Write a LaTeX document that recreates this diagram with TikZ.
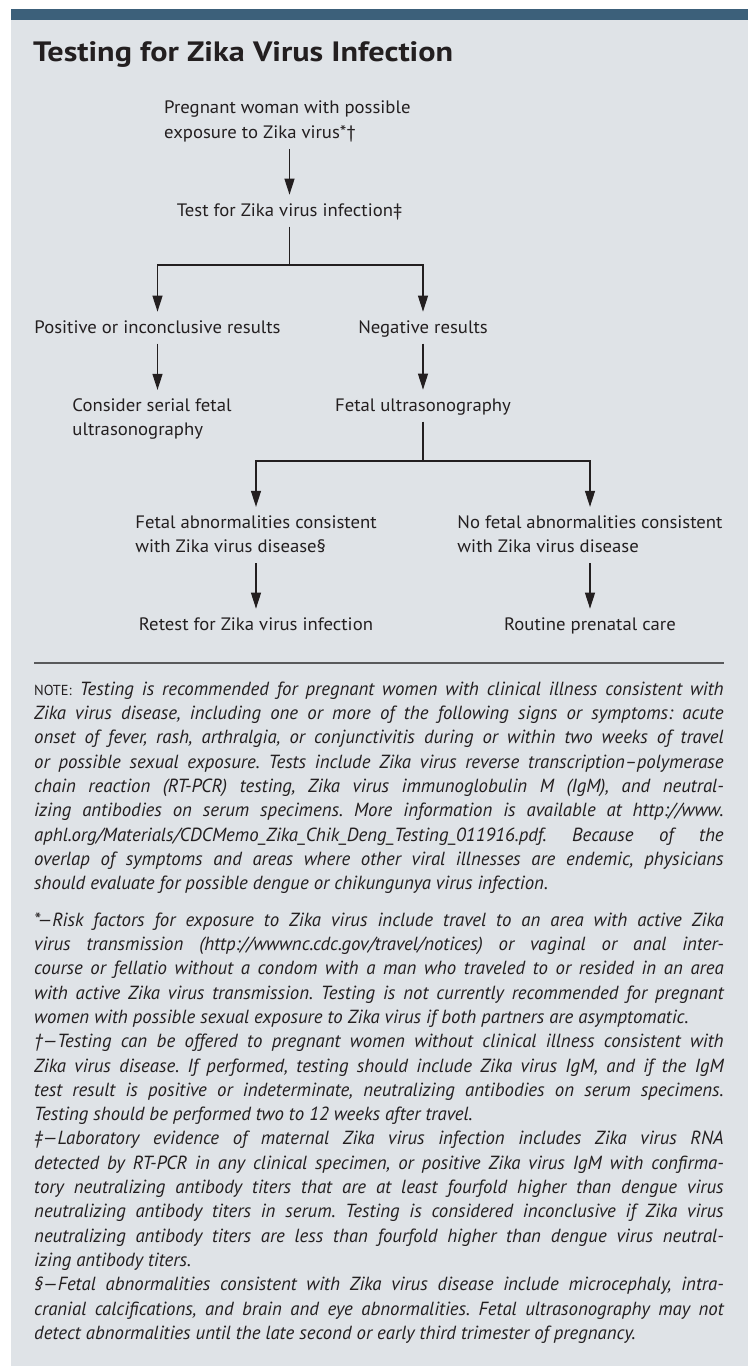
\documentclass[tikz,border=0pt]{standalone}
\usepackage{fontspec}
\setmainfont{PT Sans}
\newfontfamily\titlefam{PT Sans}[FakeStretch=1.15]
\newfontfamily\flowfam{PT Sans}[FakeStretch=1.04]
\newfontfamily\notefam{PT Sans}[FakeStretch=0.99]
\usepackage{xcolor}
\usetikzlibrary{positioning,arrows.meta}
\definecolor{inktext}{HTML}{231F20}
\definecolor{bandblue}{HTML}{3C607A}
\definecolor{panelgray}{HTML}{DFE3E7}
\definecolor{rulegray}{HTML}{58595B}
\newcommand{\flowfont}{\flowfam\fontsize{18}{24.5}\selectfont}
\newcommand{\notefont}{\notefam\fontsize{19}{24.3}\selectfont\itshape\frenchspacing\hyphenpenalty=10000\exhyphenpenalty=10000}
\newcommand{\smallcap}[1]{{\upshape\fontsize{14.5}{24.3}\selectfont #1}}
% one justified line of a note
\newcommand{\jline}[1]{\hbox to 689.5pt{#1}\linebreak}
\tikzset{
flow/.style={font=\flowfont, text=inktext, inner sep=0pt, text height=17.15pt, text depth=7.35pt},
flowpar/.style={font=\flowfont, text=inktext, inner sep=0pt, align=left},
notepar/.style={font=\notefont, text=inktext, inner sep=0pt, text width=689.5pt, align=justify, anchor=north west},
link/.style={draw=inktext, line width=1.2pt},
arr/.style={link, -{Triangle[length=16pt,width=10pt]}, shorten >=4pt},
from text/.style={shorten <=3pt}
}

\begin{document}
\begin{tikzpicture}[x=1pt,y=-1pt]
\useasboundingbox (0,0) rectangle (748,1368);
\fill[panelgray] (11,20) rectangle (748,1366);
\fill[bandblue] (11,9) rectangle (748,20);
\node[anchor=base west, inner sep=0pt, text=inktext, font=\titlefam\fontsize{28}{32}\selectfont\bfseries] (title) at (33,61) {Testing for Zika Virus Infection};

% flow chart
\node[flowpar, anchor=north west] (woman) at (164,96.35) {\strut Pregnant woman with possible\\exposure to Zika virus*†\strut};
\node[flow, anchor=base] (test) at (289.5,216) {Test for Zika virus infection‡};
\coordinate (fork1) at (289.5,265);
\node[flow, anchor=base] (pos) at (157.5,333) {Positive or inconclusive results};
\node[flow, anchor=base] (neg) at (423,333) {Negative results};
\node[flowpar, anchor=north] (serial) at (152,393.85) {\strut Consider serial fetal\\ultrasonography\strut};
\node[flow, anchor=base] (usg) at (423,411) {Fetal ultrasonography};
\coordinate (fork2) at (423,461);
\node[flowpar, anchor=north] (abn) at (256,510.85) {\strut Fetal abnormalities consistent\\with Zika virus disease§\strut};
\node[flowpar, anchor=north] (noabn) at (590,510.85) {\strut No fetal abnormalities consistent\\with Zika virus disease\strut};
\node[flow, anchor=base] (retest) at (256,630) {Retest for Zika virus infection};
\node[flow, anchor=base] (routine) at (590,630) {Routine prenatal care};

\draw[arr, from text] (test.north |- woman.south) -- (test.north);
\draw[link, from text] (test.south) -- (fork1);
\draw[arr] (fork1) -| (pos.north);
\draw[arr] (fork1) -| (neg.north);
\draw[arr, from text] (pos.south) -- (pos.south |- serial.north);
\draw[arr, from text] (neg.south) -- (usg.north);
\draw[link, from text] (usg.south) -- (fork2);
\draw[arr] (fork2) -| (abn.north);
\draw[arr] (fork2) -| (noabn.north);
\draw[arr, from text] (abn.south) -- (retest.north);
\draw[arr, from text] (noabn.south) -- (routine.north);

\draw[rulegray, line width=1.5pt] (34,663) -- (723.5,663);

% notes
\node[notepar] (note) at (34,677.99) {\strut\jline{\smallcap{NOTE:} Testing is recommended for pregnant women with clinical illness consistent with}
\jline{Zika virus disease, including one or more of the following signs or symptoms: acute}
\jline{onset of fever, rash, arthralgia, or conjunctivitis during or within two weeks of travel}
\jline{or possible sexual exposure. Tests include Zika virus reverse transcription–polymerase}
\jline{chain reaction (RT-PCR) testing, Zika virus immunoglobulin M (IgM), and neutral-}
\jline{izing antibodies on serum specimens. More information is available at http://www.}
\jline{aphl.org/Materials/CDCMemo\_Zika\_Chik\_Deng\_Testing\_011916.pdf. Because of the}
\jline{overlap of symptoms and areas where other viral illnesses are endemic, physicians}
should evaluate for possible dengue or chikungunya virus infection.};
\node[notepar] (star) at (34,908.99) {\strut\jline{*—Risk factors for exposure to Zika virus include travel to an area with active Zika}
\jline{virus transmission (http://wwwnc.cdc.gov/travel/notices) or vaginal or anal inter-}
\jline{course or fellatio without a condom with a man who traveled to or resided in an area}
\jline{with active Zika virus transmission. Testing is not currently recommended for pregnant}
women with possible sexual exposure to Zika virus if both partners are asymptomatic.};
\node[notepar] (dagger) at (34,1030.5) {\strut\jline{†—Testing can be offered to pregnant women without clinical illness consistent with}
\jline{Zika virus disease. If performed, testing should include Zika virus IgM, and if the IgM}
\jline{test result is positive or indeterminate, neutralizing antibodies on serum specimens.}
Testing should be performed two to 12 weeks after travel.};
\node[notepar] (ddagger) at (34,1127.7) {\strut\jline{‡—Laboratory evidence of maternal Zika virus infection includes Zika virus RNA}
\jline{detected by RT-PCR in any clinical specimen, or positive Zika virus IgM with confirma-}
\jline{tory neutralizing antibody titers that are at least fourfold higher than dengue virus}
\jline{neutralizing antibody titers in serum. Testing is considered inconclusive if Zika virus}
\jline{neutralizing antibody titers are less than fourfold higher than dengue virus neutral-}
izing antibody titers.};
\node[notepar] (section) at (34,1273.5) {\strut\jline{§—Fetal abnormalities consistent with Zika virus disease include microcephaly, intra-}
\jline{cranial calcifications, and brain and eye abnormalities. Fetal ultrasonography may not}
detect abnormalities until the late second or early third trimester of pregnancy.};
\end{tikzpicture}
\end{document}
